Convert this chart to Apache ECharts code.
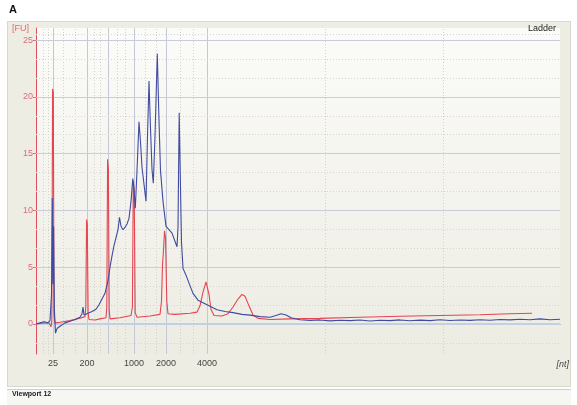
<!DOCTYPE html>
<html><head><meta charset="utf-8">
<script src="https://cdn.jsdelivr.net/npm/echarts@6/dist/echarts.min.js"></script>
<style>
html,body{margin:0;padding:0;background:#fff}
#wrap{position:relative;width:577px;height:405px;overflow:hidden}
#panel{position:absolute;left:7px;top:21px;width:564px;height:366px;background:#eeede4;border:1px solid #d9d8cd;box-sizing:border-box}
#foot{position:absolute;left:7px;top:389px;width:564px;height:16px;background:#f6f6f3;border-top:1px solid #d0cfc4;box-sizing:border-box}
#c{position:absolute;left:0;top:0;width:577px;height:405px}
</style>
</head><body>
<div id="wrap"><div id="panel"></div><div id="foot"></div><div id="c"></div></div>
<script>
// migration time (s) and fluorescence (FU) of the ladder (red) and sample (blue)
const ladderTime = [19.0,19.4,19.9,20.3,20.5,20.58,20.66,20.73,20.8,20.9,21.4,22.4,23.4,23.9,23.98,24.06,24.13,24.21,24.3,24.9,25.4,26.0,26.08,26.16,26.24,26.32,26.4,27.4,28.5,28.64,28.73,28.82,28.92,29.1,30.4,31.4,31.55,31.65,31.75,31.85,31.95,32.08,32.2,32.9,34.4,35.1,35.4,35.7,36.0,36.1,36.3,36.5,36.8,37.6,38.2,38.7,39.2,39.6,39.9,40.3,40.7,41.2,42.4,44.4,47.4,51.4,55.4,59.4,63.4,66.4,68.6];
const ladderFU   = [0.0,0.05,0.1,0.1,-0.25,0.3,20.7,20.4,0.8,0.1,0.15,0.3,0.5,0.65,1.5,9.2,8.8,1.0,0.4,0.35,0.45,0.55,1.5,14.5,13.6,1.2,0.45,0.55,0.75,1.5,12.6,11.8,1.0,0.6,0.7,0.85,2.0,5.2,6.5,8.2,7.6,2.0,0.9,0.85,0.95,1.05,1.6,2.8,3.7,3.7,2.6,1.3,0.75,0.7,0.9,1.5,2.2,2.6,2.45,1.6,0.8,0.5,0.4,0.45,0.5,0.6,0.68,0.75,0.82,0.9,0.95];

const sampleTime = [19.0,19.4,19.8,20.2,20.4,20.55,20.63,20.69,20.76,20.84,20.95,21.1,21.4,21.9,22.4,22.9,23.4,23.6,23.7,23.8,24.2,24.6,25.0,25.3,25.6,25.9,26.2,26.4,26.6,26.8,27.0,27.2,27.35,27.5,27.7,27.9,28.1,28.3,28.5,28.68,28.8,28.93,29.1,29.3,29.45,29.6,29.8,30.0,30.15,30.3,30.45,30.6,30.73,30.9,31.13,31.28,31.45,31.7,32.0,32.3,32.6,32.85,33.1,33.2,33.32,33.43,33.55,33.7,34.0,34.3,34.7,35.2,36.1,37.1,37.9,38.7,39.6,40.4,41.4,42.4,43.0,43.5,44.0,44.5,45.4,46.4,47.4,48.4,49.4,50.4,51.4,52.4,53.4,54.4,55.4,56.4,57.4,58.4,59.4,60.4,61.4,62.4,63.4,64.4,65.4,66.4,67.4,68.4,69.4,70.4,71.4];
const sampleFU   = [0.0,0.1,0.2,0.1,0.3,2.6,11.1,3.5,8.6,1.2,-0.8,-0.4,-0.2,0.1,0.25,0.4,0.6,0.9,1.5,0.8,0.95,1.1,1.3,1.7,2.2,2.7,3.8,5.0,6.0,6.9,7.6,8.3,9.4,8.6,8.3,8.5,8.8,9.3,10.8,12.8,11.8,10.2,13.5,17.8,16.0,13.8,12.3,10.8,16.5,21.4,17.2,13.6,12.4,16.5,23.8,18.5,13.5,10.8,8.6,8.3,8.0,7.4,6.8,8.5,18.6,13.0,7.2,4.9,4.3,3.6,2.7,2.1,1.7,1.25,1.1,1.0,0.85,0.78,0.65,0.6,0.75,0.9,0.8,0.55,0.38,0.32,0.36,0.28,0.33,0.3,0.35,0.27,0.33,0.3,0.36,0.29,0.34,0.3,0.37,0.31,0.35,0.32,0.38,0.33,0.4,0.36,0.42,0.38,0.45,0.38,0.42];

// size markers (nt) at their migration times
const sizeTimes  = [20.7, 24.1, 26.2, 28.8, 32.0, 36.1];
const sizeLabels = ['25', '200', '', '1000', '2000', '4000'];
const minorTimes = [19.7, 20.2, 21.7, 22.9, 24.8, 25.4, 27.1, 27.9, 29.9, 31.0, 33.4, 34.7, 47.9, 59.7];
const fuTicks    = [0, 5, 10, 15, 20, 25];
const fuMinor    = [-1.667, 1.667, 3.333, 6.667, 8.333, 11.667, 13.333, 16.667, 18.333, 21.667, 23.333, 25.5];

const zip = (a, b) => a.map((v, i) => [v, b[i]]);

const gridLines = [];
minorTimes.forEach(t => gridLines.push({xAxis: t, lineStyle: {color: '#d2d2ca', type: [1, 2], width: 1}}));
sizeTimes.forEach(t => gridLines.push({xAxis: t, lineStyle: {color: '#c4c8d6', type: 'solid', width: 1}}));
fuMinor.forEach(v => gridLines.push({yAxis: v, lineStyle: {color: '#d8d7cd', type: [1, 2], width: 1}}));
fuTicks.forEach(v => gridLines.push({yAxis: v, lineStyle: {color: v === 0 ? '#c3cfe2' : '#cacdd9', type: 'solid', width: v === 0 ? 2 : 1}}));

const chart = echarts.init(document.getElementById('c'), null, {renderer: 'canvas'});
chart.setOption({
  animation: false,
  backgroundColor: 'transparent',
  grid: {
    left: 36, right: 17, top: 28, bottom: 51, show: true, borderWidth: 0,
    backgroundColor: new echarts.graphic.LinearGradient(0, 0, 0, 1, [
      {offset: 0, color: '#fbfbf9'}, {offset: 1, color: '#edece3'}
    ])
  },
  xAxis: {
    type: 'value', min: 19.0, max: 71.4,
    splitLine: {show: false},
    axisLine: {show: true, lineStyle: {color: '#7a7a78', width: 1}},
    axisTick: {show: true, length: 4, customValues: sizeTimes, lineStyle: {color: '#7a7a78'}},
    axisLabel: {
      customValues: sizeTimes, margin: 5, fontSize: 9, color: '#444',
      fontFamily: 'Liberation Sans',
      formatter: v => { const i = sizeTimes.findIndex(t => Math.abs(t - v) < 1e-6); return i >= 0 ? sizeLabels[i] : ''; }
    }
  },
  yAxis: {
    type: 'value', min: -2.64, max: 26.06,
    splitLine: {show: false},
    axisLine: {show: true, onZero: false, lineStyle: {color: '#e0505c', width: 1}},
    axisTick: {show: true, length: 3, customValues: fuTicks, lineStyle: {color: '#e0707c'}},
    axisLabel: {customValues: fuTicks, margin: 3, fontSize: 9, color: '#e06a78', fontFamily: 'Liberation Sans'}
  },
  graphic: [
    {type: 'text', left: 9, top: 4, style: {text: 'A', font: 'bold 11px "Liberation Sans"', fill: '#111'}},
    {type: 'text', left: 12, top: 24, style: {text: '[FU]', font: '9px "Liberation Sans"', fill: '#e06a78'}},
    {type: 'text', right: 21, top: 24, style: {text: 'Ladder', font: '9px "Liberation Sans"', fill: '#222'}},
    {type: 'text', right: 8, top: 360, style: {text: '[nt]', font: 'italic 9px "Liberation Sans"', fill: '#444'}},
    {type: 'text', left: 12, top: 391, style: {text: 'Viewport 12', font: 'bold 7px "Liberation Sans"', fill: '#222'}}
  ],
  series: [
    {type: 'line', data: [], z: 1, silent: true,
     markLine: {silent: true, z: 1, symbol: 'none', label: {show: false}, animation: false, data: gridLines}},
    {type: 'line', name: 'Ladder', data: zip(ladderTime, ladderFU), showSymbol: false, z: 3,
     lineStyle: {color: '#e6444e', width: 1.1}},
    {type: 'line', name: 'Sample', data: zip(sampleTime, sampleFU), showSymbol: false, z: 4,
     lineStyle: {color: '#3f4ba0', width: 1.1}}
  ]
});
</script>
</body></html>
